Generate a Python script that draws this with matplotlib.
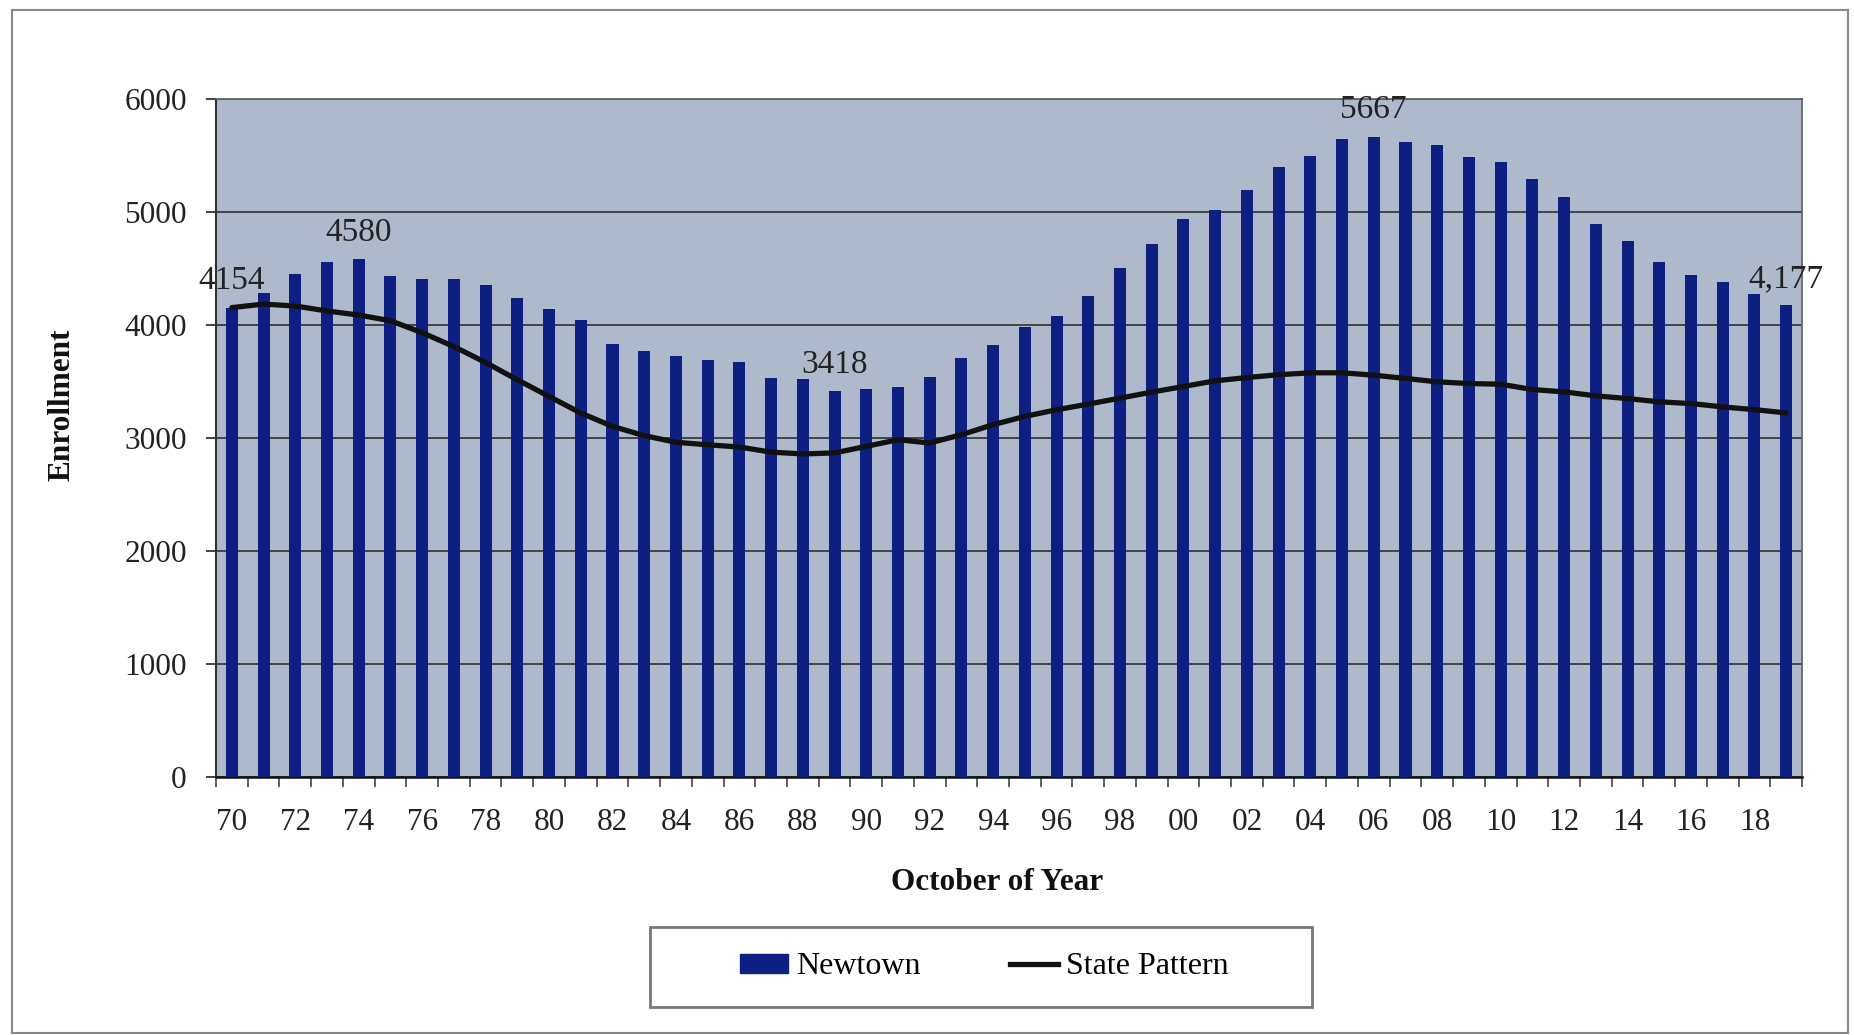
import matplotlib
matplotlib.use("Agg")
import matplotlib.pyplot as plt
from matplotlib.patches import Rectangle
from matplotlib.lines import Line2D
import numpy as np

# data (October enrollment, 1970-2019)
years = list(range(1970, 2020))
newtown = [4154, 4287, 4448, 4555, 4580, 4430, 4405, 4405, 4355, 4238,
           4146, 4046, 3832, 3773, 3729, 3690, 3670, 3530, 3523, 3418,
           3430, 3452, 3536, 3712, 3825, 3980, 4080, 4255, 4506, 4713,
           4934, 5014, 5192, 5395, 5493, 5646, 5667, 5622, 5596, 5487,
           5443, 5292, 5133, 4894, 4741, 4561, 4443, 4378, 4277, 4177]
state = [4154, 4185, 4168, 4124, 4088, 4038, 3932, 3809, 3668, 3515,
         3368, 3221, 3103, 3021, 2962, 2940, 2920, 2875, 2859, 2868,
         2926, 2985, 2956, 3029, 3118, 3191, 3250, 3300, 3353, 3406,
         3456, 3506, 3535, 3560, 3577, 3577, 3556, 3527, 3497, 3482,
         3476, 3429, 3408, 3373, 3349, 3320, 3305, 3275, 3251, 3222]
labelled = {1970: "4154", 1974: "4580", 1989: "3418", 2006: "5667", 2019: "4,177"}
tick_labels = ["%02d" % (y % 100) for y in years[::2]]

plt.rcParams["font.family"] = ["Liberation Serif", "DejaVu Serif"]

W, H = 1854, 1035
fig = plt.figure(figsize=(W / 100, H / 100), dpi=100)
fig.patch.set_facecolor("white")

ax = fig.add_axes([216 / W, 1 - 777 / H, (1802 - 216) / W, (777 - 99) / H])
ax.set_facecolor("#AEBACB")

bar_color = "#0D1F82"
x = np.arange(len(years))
ax.bar(x, newtown, width=0.38, color=bar_color, zorder=3)
ax.plot(x, state, color="#111111", lw=3.8, zorder=4, solid_capstyle="round")

for yr, txt in labelled.items():
    i = years.index(yr)
    ax.annotate(txt, (i, newtown[i]), xytext=(0, 19), textcoords="offset points",
                ha="center", va="center", fontsize=24, color="#222222", zorder=5)

ax.set_xlim(-0.5, len(years) - 0.5)
ax.set_ylim(0, 6000)
ax.set_yticks(np.arange(0, 6001, 1000))
ax.yaxis.grid(True, color="#3a3a3a", lw=1.3, zorder=1)
ax.set_axisbelow(True)

ax.set_xticks(x[::2])
ax.set_xticklabels(tick_labels)
ax.set_xticks(np.arange(-0.5, len(years)), minor=True)
ax.tick_params(axis="x", which="major", length=0, pad=22, labelsize=22.5, colors="#222222")
ax.tick_params(axis="x", which="minor", length=7, width=1.2, color="#444444")
ax.tick_params(axis="y", length=7, width=1.2, pad=14, labelsize=22.5, colors="#222222")

for side in ["top", "right"]:
    ax.spines[side].set_color("#666666")
    ax.spines[side].set_linewidth(1.3)
ax.spines["left"].set_color("#333333")
ax.spines["left"].set_linewidth(1.5)
ax.spines["bottom"].set_color("#111111")
ax.spines["bottom"].set_linewidth(1.8)

fig.text(62 / W, 1 - 405 / H, "Enrollment", rotation=90, ha="center", va="center",
         fontsize=22.5, fontweight="bold", color="#111111")
fig.text(997 / W, 1 - 883 / H, "October of Year", ha="center", va="center",
         fontsize=22.5, fontweight="bold", color="#111111")

# outer frame and legend box
fig.patches.append(Rectangle((12 / W, 1 - 1033 / H), (1848 - 12) / W, (1033 - 10) / H,
                             transform=fig.transFigure, fill=False, ec="#888888", lw=1.5))
fig.patches.append(Rectangle((650 / W, 1 - 1007 / H), (1312 - 650) / W, (1007 - 927) / H,
                             transform=fig.transFigure, fill=False, ec="#777777", lw=2))

handles = [Rectangle((0, 0), 1, 1, color=bar_color),
           Line2D([], [], color="#111111", lw=3.8)]
fig.legend(handles, ["Newtown", "State Pattern"], loc="center",
           bbox_to_anchor=(984 / W, 1 - 967 / H), ncol=2, frameon=False,
           fontsize=23, handlelength=1.5, handleheight=0.55, handletextpad=0.25,
           columnspacing=2.8)

fig.savefig("out.png", dpi=100, facecolor="white")
